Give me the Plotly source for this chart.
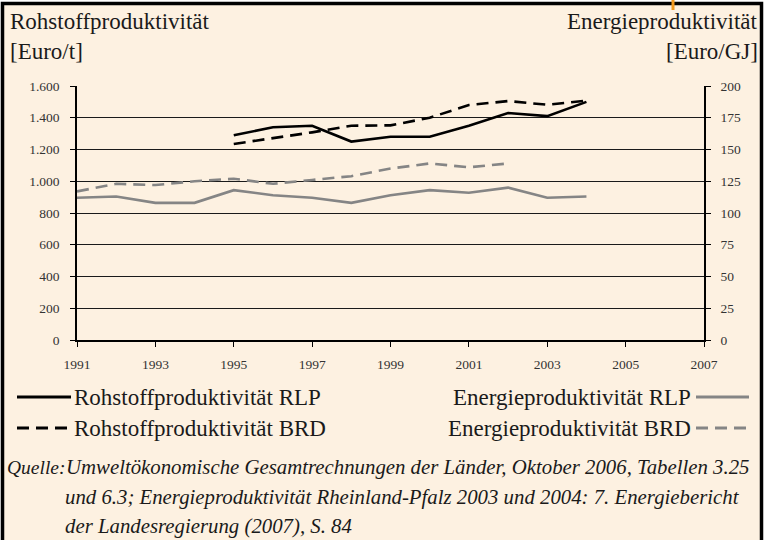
import plotly.graph_objects as go

years = list(range(1991, 2005))
years_rohstoff = list(range(1995, 2005))
rohstoff_rlp = [1290, 1340, 1350, 1250, 1280, 1280, 1350, 1430, 1410, 1500]
rohstoff_brd = [1235, 1270, 1308, 1350, 1352, 1400, 1480, 1505, 1482, 1508]
energie_rlp = [112, 113, 108, 108, 118, 114, 112, 108, 114, 118, 116, 120, 112, 113]
years_energie_brd = list(range(1991, 2003))
energie_brd = [117, 123, 122, 125, 127, 123, 126, 129, 135, 139, 136, 139]

left_ticks = list(range(0, 1601, 200))
right_ticks = list(range(0, 201, 25))
x_ticks = list(range(1991, 2008, 2))

FONT = "Liberation Serif"
CREAM = "#FDF1E1"
GRAY = "#858585"

# plot area in pixels
L, R, T, B = 77, 704, 86, 340


def px(x):
    return (x - L) / (R - L)


def py(y):
    return (B - y) / (B - T)


fig = go.Figure()
fig.add_trace(go.Scatter(x=years_rohstoff, y=rohstoff_rlp, mode="lines",
                         line=dict(color="black", width=2.6), yaxis="y"))
fig.add_trace(go.Scatter(x=years_rohstoff, y=rohstoff_brd, mode="lines",
                         line=dict(color="black", width=2.6, dash="12px,7px"), yaxis="y"))
fig.add_trace(go.Scatter(x=years, y=energie_rlp, mode="lines",
                         line=dict(color=GRAY, width=2.6), yaxis="y2"))
fig.add_trace(go.Scatter(x=years_energie_brd, y=energie_brd, mode="lines",
                         line=dict(color=GRAY, width=2.6, dash="12px,7px"), yaxis="y2"))

shapes = []
# cream frame with black border
shapes.append(dict(type="rect", xref="paper", yref="paper", layer="below",
                   x0=px(2.5), x1=px(761.5), y0=py(560), y1=py(3.5),
                   fillcolor=CREAM, line=dict(color="black", width=3.5)))
# orange mark at top
shapes.append(dict(type="line", xref="paper", yref="paper",
                   x0=px(673), x1=px(673), y0=py(0), y1=py(10),
                   line=dict(color="#F39A1E", width=3)))

# legend samples
def sample(x0, x1, y, color, dash):
    shapes.append(dict(type="line", xref="paper", yref="paper",
                       x0=px(x0), x1=px(x1), y0=py(y), y1=py(y),
                       line=dict(color=color, width=3, dash=dash)))

sample(17, 71, 397, "black", "solid")
sample(17, 71, 428, "black", "12px,7px")
sample(696, 749, 397, GRAY, "solid")
sample(696, 749, 428, GRAY, "12px,7px")

annotations = []

def text(t, x, y, anchor="left", size=20, italic=False):
    annotations.append(dict(text=t, xref="paper", yref="paper", x=px(x), y=py(y),
                            xanchor=anchor, yanchor="middle", showarrow=False,
                            font=dict(family=FONT, size=size, color="#1a1a1a",
                                      style="italic" if italic else "normal")))

text("Rohstoffproduktivität", 8, 21, "left", 23)
text("[Euro/t]", 8, 51, "left", 23)
text("Energieproduktivität", 760, 21, "right", 23)
text("[Euro/GJ]", 760, 51, "right", 23)

text("Rohstoffproduktivität RLP", 72, 397, "left", 23)
text("Rohstoffproduktivität BRD", 72, 428, "left", 23)
text("Energieproduktivität RLP", 693, 397, "right", 23)
text("Energieproduktivität BRD", 693, 428, "right", 23)

text("Quelle:", 5, 467, "left", 19.5, True)
text("Umweltökonomische Gesamtrechnungen der Länder, Oktober 2006, Tabellen 3.25", 64, 467, "left", 20.8, True)
text("und 6.3; Energieproduktivität Rheinland-Pfalz 2003 und 2004: 7. Energiebericht", 63, 497, "left", 20.8, True)
text("der Landesregierung (2007), S. 84", 63, 526, "left", 20.8, True)

tickfont = dict(family=FONT, size=13.5, color="#333333")

fig.update_layout(
    width=768, height=540,
    margin=dict(l=L, r=768 - R, t=T, b=540 - B),
    paper_bgcolor="white",
    plot_bgcolor="rgba(0,0,0,0)",
    showlegend=False,
    separators=",.",
    shapes=shapes,
    annotations=annotations,
    xaxis=dict(range=[1991, 2007], tickvals=x_ticks, ticks="outside", ticklen=5,
               tickcolor="black", showline=True, linecolor="black", linewidth=1.5,
               showgrid=False, zeroline=False, tickfont=tickfont,
               ticklabelstandoff=6),
    yaxis=dict(range=[0, 1600], tickvals=left_ticks, tickformat=",", ticks="outside",
               ticklen=5, tickcolor="black", showline=True, linecolor="black",
               linewidth=1.5, showgrid=True, gridcolor="#1a1a1a", gridwidth=1,
               zeroline=False, tickfont=tickfont, ticklabelstandoff=8),
    yaxis2=dict(range=[0, 200], tickvals=right_ticks, overlaying="y", side="right",
                ticks="outside", ticklen=5, tickcolor="black", showline=True,
                linecolor="black", linewidth=1.5, showgrid=False, zeroline=False,
                tickfont=tickfont, ticklabelstandoff=7),
)

fig.write_html("out.html", config={"displayModeBar": False},
               post_script="document.body.style.margin='0';")
